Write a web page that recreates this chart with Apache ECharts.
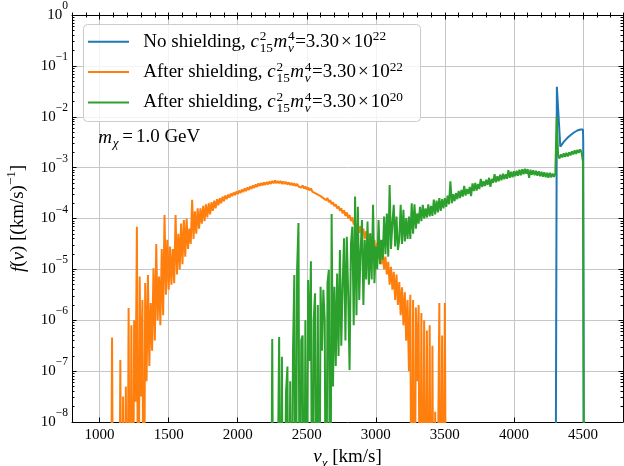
<!DOCTYPE html>
<html>
<head>
<meta charset="utf-8">
<script src="https://cdn.jsdelivr.net/npm/echarts@6/dist/echarts.min.js"></script>
<style>
  html, body { margin: 0; padding: 0; background: #fff; }
  #chart { width: 624px; height: 466px; }
</style>
</head>
<body>
<div id="chart"></div>
<script>
// Velocity distributions f(v) of the dark-matter particle, stored as log10 f
// in 10 km/s bins. Z marks an empty bin (f = 0, below the plotted range).
const Z = -12;
const binWidth = 10;

// No shielding, c15^2 m_v^4 = 3.30e22 (only populated near the top end)
const noShieldV = [4300, 4311, 4336, 4362, 4386, 4411, 4435, 4459, 4483, 4500, 4502, 4506, 4508];
const noShieldLogF = [Z, -1.41, -2.59, -2.49, -2.42, -2.36, -2.31, -2.27, -2.25, -2.25, -2.49, -2.5, Z];

// After shielding, c15^2 m_v^4 = 3.30e22 ; first bin at 1080 km/s
const shield22Start = 1080;
const shield22LogF = [
  Z, -6.34, Z, Z, Z, Z, Z, -6.78, Z, -7.5,
  Z, -7.3, Z, -5.76, Z, -6.1, Z, -6.0, -7.6, -4.16,
  Z, -5.14, -7.5, -5.6, Z, -5.27, -7.2, -5.11, -6.9, -5.66,
  -6.6, -4.98, -6.4, -4.5, -6.0, -5.14, -6.1, -4.6, -5.9, -3.93,
  -5.5, -4.42, -5.4, -4.55, -5.3, -4.6, -5.27, -3.93, -5.1, -4.3,
  -5.0, -4.1, -4.9, -4.03, -4.75, -4.0, -4.6, -4.2, -4.5, -3.63,
  -4.4, -3.86, -4.3, -3.8, -4.2, -3.8, -4.1, -3.75, -4.05, -3.72,
  -3.98, -3.7, -3.92, -3.68, -3.85, -3.65, -3.8, -3.62, -3.74, -3.6,
  -3.7, -3.57, -3.66, -3.55, -3.62, -3.53, -3.59, -3.51, -3.56, -3.49,
  -3.54, -3.47, -3.52, -3.45, -3.5, -3.43, -3.48, -3.41, -3.46, -3.39,
  -3.44, -3.37, -3.42, -3.35, -3.4, -3.33, -3.38, -3.31, -3.36, -3.3,
  -3.35, -3.29, -3.34, -3.28, -3.33, -3.27, -3.32, -3.26, -3.31, -3.25,
  -3.31, -3.26, -3.31, -3.26, -3.32, -3.27, -3.32, -3.28, -3.33, -3.29,
  -3.34, -3.3, -3.35, -3.31, -3.36, -3.32, -3.37, -3.34, -3.39, -3.35,
  -3.41, -3.37, -3.43, -3.39, -3.45, -3.41, -3.47, -3.44, -3.5, -3.47,
  -3.53, -3.5, -3.56, -3.53, -3.6, -3.57, -3.64, -3.6, -3.68, -3.64,
  -3.72, -3.68, -3.76, -3.72, -3.8, -3.76, -3.85, -3.8, -3.9, -3.84,
  -3.95, -3.88, -4.0, -3.93, -4.05, -3.98, -4.12, -4.04, -4.2, -4.1,
  -4.28, -4.15, -4.34, -4.2, -4.4, -4.25, -4.46, -4.3, -4.52, -4.36,
  -4.6, -4.42, -4.7, -4.48, -4.8, -4.55, -4.9, -4.65, -5.0, -4.75,
  -5.1, -4.85, -5.3, -4.95, -5.4, -5.05, -5.6, -5.1, -5.7, -5.25,
  -5.9, -5.35, -6.1, -5.45, -6.4, -5.6, -7.0, -5.5, Z, -5.6,
  Z, -5.75, -7.2, -5.7, Z, -5.86, Z, -6.0, Z, -6.2,
  Z, -6.1, Z, -6.5, Z, -7.8, Z, Z, -5.66, Z,
  -6.3, Z, -5.66, Z
];

// After shielding, c15^2 m_v^4 = 3.30e20 ; first bin at 2240 km/s
const shield20Start = 2240;
const shield20LogF = [
  Z, -6.37, Z, Z, Z, Z, -6.33, Z, -6.72, Z,
  Z, -7.4, -6.91, Z, -7.2, Z, -6.65, -5.11, Z, -5.01,
  -4.09, Z, -6.39, -6.3, Z, -6.0, Z, -5.21, -6.8, -4.84,
  Z, -6.0, -5.47, Z, -5.7, Z, -5.34, -6.6, -5.4, -6.0,
  Z, -5.27, -5.01, Z, -3.91, -7.3, -5.34, -6.9, -5.08, -6.7,
  -4.62, -6.5, -5.3, -4.39, -6.4, -4.36, -5.5, -6.98, -4.5, -4.16,
  -6.1, -3.57, -5.9, -3.77, -5.6, -4.62, -4.03, -5.7, -4.42, -5.2,
  -4.06, -5.3, -4.29, -5.2, -3.73, -5.27, -4.55, -5.0, -4.03, -4.9,
  -4.42, -4.81, -3.96, -4.7, -3.9, -4.75, -3.34, -4.6, -4.09, -3.73,
  -4.55, -3.96, -4.62, -4.42, -3.73, -4.5, -3.83, -4.45, -3.99, -4.4,
  -3.96, -4.4, -3.7, -4.3, -3.72, -4.2, -3.9, -4.1, -3.77, -4.05,
  -3.73, -4.0, -3.8, -3.98, -3.72, -3.96, -3.75, -3.95, -3.63, -3.92,
  -3.65, -3.88, -3.6, -3.85, -3.62, -3.8, -3.6, -3.77, -3.55, -3.72,
  -3.27, -3.7, -3.52, -3.66, -3.5, -3.62, -3.46, -3.6, -3.44, -3.57,
  -3.36, -3.55, -3.42, -3.52, -3.38, -3.56, -3.31, -3.46, -3.3, -3.45,
  -3.32, -3.42, -3.22, -3.38, -3.27, -3.36, -3.24, -3.34, -3.2, -3.38,
  -3.22, -3.3, -3.13, -3.29, -3.17, -3.27, -3.14, -3.25, -3.12, -3.23,
  -3.13, -3.22, -3.05, -3.2, -3.08, -3.19, -3.07, -3.17, -3.06, -3.16,
  -3.04, -3.15, -3.03, -3.13, -3.02, -3.12, -3.03, -3.2, -3.04, -3.14,
  -3.05, -3.15, -3.06, -3.16, -3.07, -3.17, -3.08, -3.18, -3.09, -3.19,
  -3.1, -3.2, -3.1, -3.19, -3.12, -3.18, -3.12, -2.0, -2.76, -2.82,
  -2.74, -2.8, -2.72, -2.79, -2.71, -2.78, -2.7, -2.76, -2.68, -2.74,
  -2.66, -2.73, -2.65, -2.71, -2.64, -2.7, -2.88, Z
];

// Axis ranges and tick positions
const xMin = 800, xMax = 4790;
const xMajorTicks = [1000, 1500, 2000, 2500, 3000, 3500, 4000, 4500];
const yMin = 1e-8, yMax = 1;
const yMinorLog = [];
for (let d = -8; d < 0; d++) {
  for (let k = 2; k <= 9; k++) yMinorLog.push(d + Math.log10(k));
}

const legendEntries = [
  { label: 'No shielding, ', exp: '22', color: '#1f77b4' },
  { label: 'After shielding, ', exp: '22', color: '#ff7f0e' },
  { label: 'After shielding, ', exp: '20', color: '#2ca02c' }
];

const SERIF = '"Liberation Serif", "Times New Roman", serif';

function binned(start, logs) {
  return logs.map((e, i) => [start + i * binWidth, Math.pow(10, e)]);
}
function paired(vs, logs) {
  return vs.map((v, i) => [v, Math.pow(10, logs[i])]);
}

// --- small math-text layout for the legend and annotation ---
const mctx = document.createElement('canvas').getContext('2d');
function textWidth(t, size, italic) {
  mctx.font = (italic ? 'italic ' : '') + size + 'px ' + SERIF;
  return mctx.measureText(t).width;
}
function piece(t, x, y, size, italic) {
  return {
    type: 'text', x: x, y: y, silent: true, z: 120,
    style: {
      text: t, fill: '#000', fontSize: size, fontFamily: SERIF,
      fontStyle: italic ? 'italic' : 'normal',
      align: 'left', verticalAlign: 'middle'
    }
  };
}
function mathLayout(runs, x, y, size) {
  const small = size * 0.7;
  const supDy = -0.26 * size, subDy = 0.33 * size;
  const out = [];
  runs.forEach(r => {
    if (r.sup !== undefined || r.sub !== undefined) {
      let w = 0;
      if (r.sup !== undefined) {
        out.push(piece(r.sup, x, y + supDy, small, false));
        w = Math.max(w, textWidth(r.sup, small, false));
      }
      if (r.sub !== undefined) {
        out.push(piece(r.sub, x, y + subDy, small, !!r.subItalic));
        w = Math.max(w, textWidth(r.sub, small, !!r.subItalic));
      }
      x += w + 0.5;
    } else {
      const pad = r.pad || 0;
      x += pad;
      out.push(piece(r.t, x, y, size, !!r.i));
      x += textWidth(r.t, size, !!r.i) + pad + (r.i ? 0.8 : 0);
    }
  });
  return out;
}

const legendLeft = 83, legendTop = 24, legendW = 337, legendH = 97;
const rowY = [41.8, 72.1, 102.4];
const graphics = [{
  type: 'rect', z: 110, silent: true,
  shape: { x: legendLeft + 0.5, y: legendTop + 0.5, width: legendW, height: legendH, r: 4 },
  style: { fill: 'rgba(255,255,255,0.8)', stroke: '#cccccc', lineWidth: 1 }
}];
legendEntries.forEach((en, k) => {
  graphics.push({
    type: 'line', z: 115, silent: true,
    shape: { x1: 88, y1: rowY[k], x2: 129, y2: rowY[k] },
    style: { stroke: en.color, lineWidth: 2 }
  });
  graphics.push.apply(graphics, mathLayout([
    { t: en.label },
    { t: 'c', i: true },
    { sup: '2', sub: '15' },
    { t: 'm', i: true },
    { sup: '4', sub: 'v', subItalic: true },
    { t: '=3.30' },
    { t: '\u00d7', pad: 2 },
    { t: '10' },
    { sup: en.exp }
  ], 143.3, rowY[k], 19));
});
graphics.push.apply(graphics, mathLayout([
  { t: 'm', i: true },
  { sub: '\u03c7', subItalic: true },
  { t: '=', pad: 3 },
  { t: '1.0 GeV' }
], 98.3, 137.5, 19));

const gridRect = { left: 72, right: 1, top: 15, bottom: 44, containLabel: false, outerBoundsMode: 'none' };
const tickStyle = { color: '#000', width: 1 };

const chart = echarts.init(document.getElementById('chart'), null, { renderer: 'canvas' });
chart.setOption({
  animation: false,
  backgroundColor: '#fff',
  grid: [0, 1, 2, 3].map(() => Object.assign({}, gridRect)),
  xAxis: [
    {
      gridIndex: 0, type: 'value', min: xMin, max: xMax, interval: 100, position: 'bottom',
      axisLine: { show: true, onZero: false, lineStyle: tickStyle },
      axisTick: { show: true, inside: true, length: 4.5, lineStyle: tickStyle, customValues: xMajorTicks },
      axisLabel: {
        customValues: xMajorTicks, color: '#000', fontSize: 15, fontFamily: SERIF, margin: 6,
        formatter: v => String(v)
      },
      splitLine: { show: true, lineStyle: { color: '#c6c6c6', width: 1 } },
      name: '{i|v}{s|\u03c7}{r| [km/s]}',
      nameLocation: 'middle', nameGap: 22,
      nameTextStyle: {
        rich: {
          i: { fontSize: 19, fontFamily: SERIF, fontStyle: 'italic', color: '#000', lineHeight: 26, verticalAlign: 'middle' },
          s: { fontSize: 13, fontFamily: SERIF, fontStyle: 'italic', color: '#000', lineHeight: 13, verticalAlign: 'bottom' },
          r: { fontSize: 19, fontFamily: SERIF, color: '#000', lineHeight: 26, verticalAlign: 'middle' }
        }
      }
    },
    {
      gridIndex: 1, type: 'value', min: xMin, max: xMax, interval: 100, position: 'bottom',
      axisLine: { show: false }, axisLabel: { show: false }, splitLine: { show: false },
      axisTick: { show: true, inside: true, length: 2.5, lineStyle: tickStyle }
    },
    {
      gridIndex: 2, type: 'value', min: xMin, max: xMax, interval: 100, position: 'top',
      axisLine: { show: true, onZero: false, lineStyle: tickStyle },
      axisTick: { show: true, inside: true, length: 4.5, lineStyle: tickStyle, customValues: xMajorTicks },
      axisLabel: { show: false }, splitLine: { show: false }
    },
    {
      gridIndex: 3, type: 'value', min: xMin, max: xMax, interval: 100, position: 'top',
      axisLine: { show: false }, axisLabel: { show: false }, splitLine: { show: false },
      axisTick: { show: true, inside: true, length: 2.5, lineStyle: tickStyle }
    }
  ],
  yAxis: [
    {
      gridIndex: 0, type: 'log', logBase: 10, min: yMin, max: yMax, interval: 1, position: 'left',
      axisLine: { show: true, onZero: false, lineStyle: tickStyle },
      axisTick: { show: true, inside: true, length: 4.5, lineStyle: tickStyle },
      minorTick: { show: false },
      axisLabel: {
        margin: 4,
        formatter: v => {
          const e = Math.round(Math.log10(v));
          return '{b|10}{s|' + (e < 0 ? '\u2212' : '') + Math.abs(e) + '}';
        },
        rich: {
          b: { fontSize: 15, fontFamily: SERIF, color: '#000', lineHeight: 30, verticalAlign: 'middle' },
          s: { fontSize: 11.5, fontFamily: SERIF, color: '#000', lineHeight: 12, verticalAlign: 'top' }
        }
      },
      splitLine: { show: true, lineStyle: { color: '#c6c6c6', width: 1 } },
      name: '{i|f}{r|(}{i|v}{r|) [(km/s)}{s|\u22121}{r|]}',
      nameLocation: 'middle', nameRotate: 90, nameGap: 40,
      nameTextStyle: {
        rich: {
          i: { fontSize: 19, fontFamily: SERIF, fontStyle: 'italic', color: '#000', lineHeight: 27, verticalAlign: 'middle' },
          r: { fontSize: 19, fontFamily: SERIF, color: '#000', lineHeight: 27, verticalAlign: 'middle' },
          s: { fontSize: 13, fontFamily: SERIF, color: '#000', lineHeight: 13, verticalAlign: 'top' }
        }
      }
    },
    {
      gridIndex: 1, type: 'value', min: -8, max: 0, position: 'left',
      axisLine: { show: false }, axisLabel: { show: false }, splitLine: { show: false },
      axisTick: { show: true, inside: true, length: 2.5, lineStyle: tickStyle, customValues: yMinorLog }
    },
    {
      gridIndex: 2, type: 'log', logBase: 10, min: yMin, max: yMax, interval: 1, position: 'right',
      axisLine: { show: true, onZero: false, lineStyle: tickStyle },
      axisTick: { show: true, inside: true, length: 4.5, lineStyle: tickStyle },
      axisLabel: { show: false }, splitLine: { show: false }
    },
    {
      gridIndex: 3, type: 'value', min: -8, max: 0, position: 'right',
      axisLine: { show: false }, axisLabel: { show: false }, splitLine: { show: false },
      axisTick: { show: true, inside: true, length: 2.5, lineStyle: tickStyle, customValues: yMinorLog }
    }
  ],
  series: [
    {
      name: 'No shielding', type: 'line', xAxisIndex: 0, yAxisIndex: 0,
      data: paired(noShieldV, noShieldLogF), showSymbol: false, clip: true,
      lineStyle: { color: '#1f77b4', width: 2 }, itemStyle: { color: '#1f77b4' }
    },
    {
      name: 'After shielding 3.30e22', type: 'line', xAxisIndex: 0, yAxisIndex: 0,
      data: binned(shield22Start, shield22LogF), showSymbol: false, clip: true,
      lineStyle: { color: '#ff7f0e', width: 2 }, itemStyle: { color: '#ff7f0e' }
    },
    {
      name: 'After shielding 3.30e20', type: 'line', xAxisIndex: 0, yAxisIndex: 0,
      data: binned(shield20Start, shield20LogF), showSymbol: false, clip: true,
      lineStyle: { color: '#2ca02c', width: 2 }, itemStyle: { color: '#2ca02c' }
    }
  ],
  graphic: graphics
});
</script>
</body>
</html>
